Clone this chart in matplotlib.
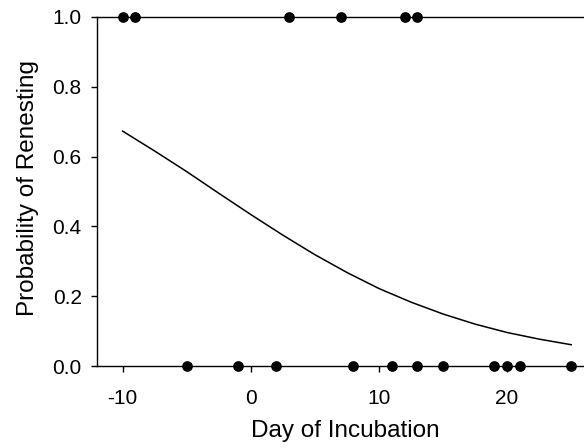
import matplotlib
matplotlib.use('Agg')
import matplotlib.pyplot as plt
import numpy as np

plt.rcParams['font.family'] = ['Liberation Sans', 'DejaVu Sans']
plt.rcParams['axes.unicode_minus'] = False

# observed nests: renested (1) and did not renest (0)
days_renested = [-10, -9, 3, 7, 12, 13]
days_not_renested = [-5, -1, 2, 8, 11, 13, 15, 19, 20, 21, 25]

# fitted probability curve
curve_day = [-10, -7.5, -5, -2.5, 0, 2.5, 5, 7.5, 10, 12.5, 15, 17.5, 20, 22.5, 25]
curve_prob = [0.673, 0.616, 0.557, 0.495, 0.434, 0.375, 0.319, 0.268, 0.222,
              0.183, 0.149, 0.120, 0.096, 0.077, 0.061]

x_ticks = [-10, 0, 10, 20]
y_ticks = [0.0, 0.2, 0.4, 0.6, 0.8, 1.0]

fig = plt.figure(figsize=(5.84, 4.48), dpi=100)
ax = fig.add_axes([97 / 584, 82 / 448, 487 / 584, 349 / 448])

ax.plot(curve_day, curve_prob, color='black', lw=1.1)
ax.plot(days_renested, np.ones(len(days_renested)), 'o', color='black',
        ms=6.7, clip_on=False, zorder=5)
ax.plot(days_not_renested, np.zeros(len(days_not_renested)), 'o', color='black',
        ms=6.7, clip_on=False, zorder=5)

ax.set_xlim(-12, 26)
ax.set_ylim(0, 1)
ax.set_xticks(x_ticks)
ax.set_yticks(y_ticks)
ax.set_yticklabels([f'{v:.1f}' for v in y_ticks])
ax.tick_params(direction='out', length=4, width=1, labelsize=15)
ax.tick_params(axis='x', pad=12.5)
ax.tick_params(axis='y', pad=7)

ax.spines['right'].set_visible(False)
for s in ['left', 'bottom', 'top']:
    ax.spines[s].set_linewidth(1.0)

ax.set_xlabel('Day of Incubation', fontsize=17.5)
ax.set_ylabel('Probability of Renesting', fontsize=17.5)
ax.xaxis.set_label_coords(0.51, -0.155)
ax.yaxis.set_label_coords(-0.119, 0.51)

fig.savefig('out.png', dpi=100)
